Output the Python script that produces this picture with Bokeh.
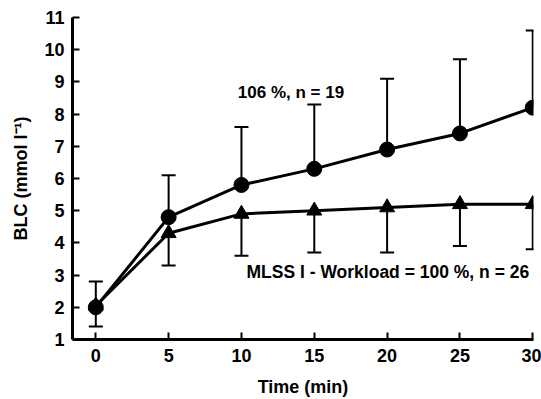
from bokeh.plotting import figure
from bokeh.models import Whisker, TeeHead, ColumnDataSource, Label, Range1d, FixedTicker
from bokeh.embed import file_html
from bokeh.resources import INLINE

time = [0, 5, 10, 15, 20, 25, 30]
blc_106 = [2.0, 4.8, 5.8, 6.3, 6.9, 7.4, 8.2]
upper_106 = [2.8, 6.1, 7.6, 8.3, 9.1, 9.7, 10.6]
blc_mlss = [2.05, 4.3, 4.9, 5.0, 5.1, 5.2, 5.2]
lower_mlss = [1.4, 3.3, 3.6, 3.7, 3.7, 3.9, 3.8]
x_ticks = [0, 5, 10, 15, 20, 25, 30]
y_ticks = [1, 2, 3, 4, 5, 6, 7, 8, 9, 10, 11]

FONT = "Liberation Sans"

p = figure(width=541, height=399, output_backend="svg", toolbar_location=None,
           x_range=Range1d(-1.6, 30.05), y_range=Range1d(1, 11),
           min_border_left=72, min_border_right=8, min_border_top=17, min_border_bottom=59)
p.outline_line_color = None
p.grid.visible = False
p.background_fill_color = "white"

for ax in (p.xaxis, p.yaxis):
    ax.axis_line_width = 3
    ax.axis_line_color = "black"
    ax.major_tick_in = 7
    ax.major_tick_out = 0
    ax.major_tick_line_width = 2
    ax.minor_tick_line_color = None
    ax.major_label_text_font = FONT
    ax.major_label_text_font_style = "bold"
    ax.major_label_text_font_size = "18px"
    ax.major_label_text_color = "black"
    ax.axis_label_text_font = FONT
    ax.axis_label_text_font_style = "bold"
    ax.axis_label_text_font_size = "18px"
    ax.axis_label_text_color = "black"

p.xaxis.ticker = FixedTicker(ticks=x_ticks)
p.yaxis.ticker = FixedTicker(ticks=y_ticks)
p.xaxis.axis_label = "Time (min)"
p.yaxis.axis_label = "BLC (mmol l\u207b\u00b9)"
p.xaxis.major_label_standoff = 9
p.yaxis.major_label_standoff = 8
p.xaxis.axis_label_standoff = 12
p.yaxis.axis_label_standoff = 10

src_a = ColumnDataSource(dict(t=time, y=blc_106, up=upper_106))
src_b = ColumnDataSource(dict(t=time, y=blc_mlss, lo=lower_mlss))

w1 = Whisker(source=src_a, base="t", lower="y", upper="up", line_width=2, line_color="black",
             upper_head=TeeHead(size=14, line_width=2, line_color="black"), lower_head=None)
w2 = Whisker(source=src_b, base="t", lower="lo", upper="y", line_width=2, line_color="black",
             lower_head=TeeHead(size=14, line_width=2, line_color="black"), upper_head=None)
p.add_layout(w1)
p.add_layout(w2)

p.line("t", "y", source=src_a, line_width=3, line_color="black")
p.line("t", "y", source=src_b, line_width=3, line_color="black")
p.scatter("t", "y", source=src_a, marker="circle", size=15, fill_color="black", line_color="black")
p.scatter("t", "y", source=src_b, marker="triangle", size=15, fill_color="black", line_color="black")

p.add_layout(Label(x=13.4, y=8.68, text="106 %, n = 19", text_font=FONT, text_font_style="bold",
                   text_font_size="17px", text_color="black", text_align="center", text_baseline="middle"))
p.add_layout(Label(x=20.05, y=3.09, text="MLSS I - Workload = 100 %, n = 26", text_font=FONT,
                   text_font_style="bold", text_font_size="17.5px", text_color="black",
                   text_align="center", text_baseline="middle"))

open("out.html", "w").write(file_html(p, INLINE))
